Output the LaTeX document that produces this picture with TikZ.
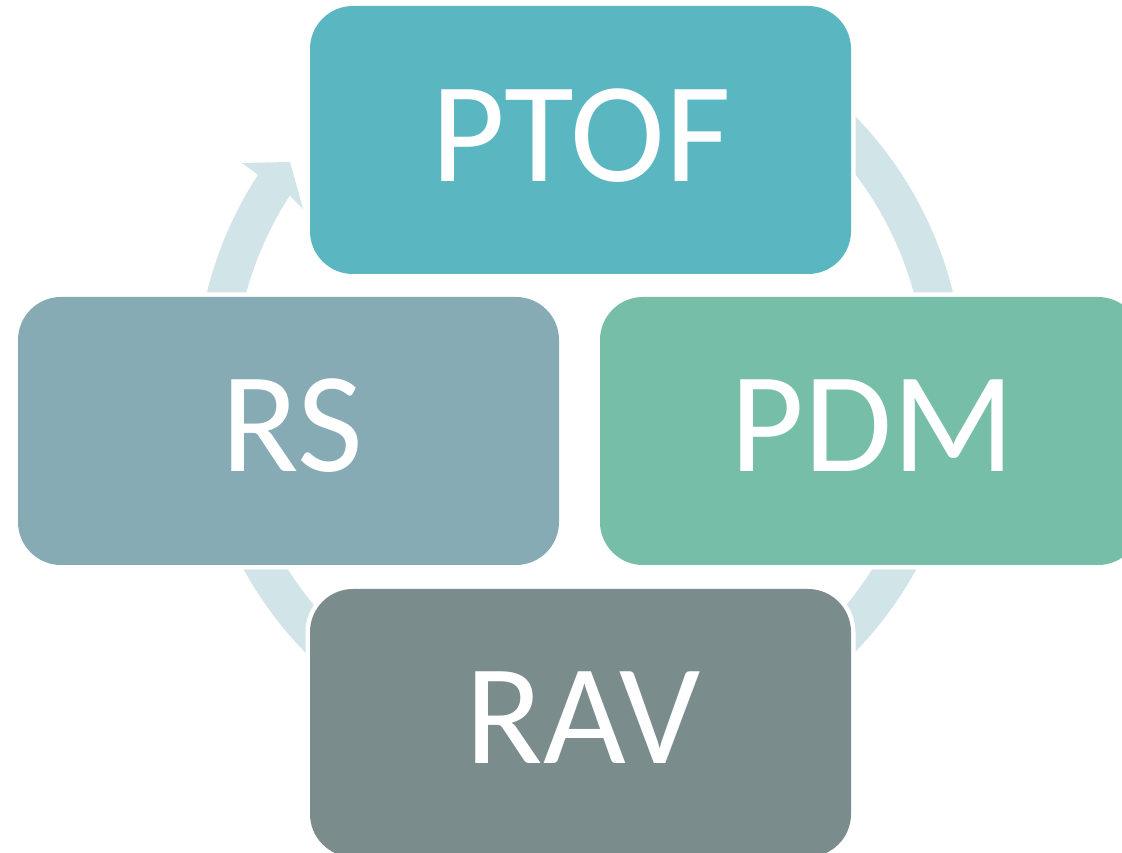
\documentclass[tikz,border=0pt]{standalone}
\usepackage{fontspec}
\setmainfont{Carlito}
\definecolor{cPTOF}{HTML}{5AB6C0}
\definecolor{cRS}{HTML}{86ABB5}
\definecolor{cPDM}{HTML}{77BEA8}
\definecolor{cRAV}{HTML}{7B8C8D}
\definecolor{cArc}{HTML}{D1E4E8}
\tikzset{
  card/.style={fill=#1, rounded corners=43pt, preaction={draw=white, line width=9pt, rounded corners=43pt}},
  cardlabel/.style={text=white, anchor=base, inner sep=0pt, font=\fontsize{143}{143}\selectfont},
}
\begin{document}
\begin{tikzpicture}[x=1pt,y=1pt]
\clip (0,0) rectangle (1122,853);
\fill[white] (0,0) rectangle (1122,853);
% circular arrow
\fill[cArc] ([shift={(147:346)}]580,469) -- (303,644) -- (290,691) -- (242,690)
  -- ([shift={(147:384)}]580,469) arc[start angle=147, end angle=420, radius=384]
  -- ([shift={(420:346)}]580,469) arc[start angle=420, end angle=147, radius=346] -- cycle;
% cards
\path[card=cPTOF] (310,579) rectangle (851,847);
\path[card=cRS] (18,288) rectangle (559,556);
\path[card=cPDM] (600,288) rectangle (1141,556);
\path[card=cRAV] (310,-4) rectangle (851,264);
% labels
\node[cardlabel] (ptof) at (581,671) {PTOF};
\node[cardlabel] (rs) at (292,381) {RS};
\node[cardlabel] (pdm) at (873,381) {PDM};
\node[cardlabel] (rav) at (583,89) {RAV};
\end{tikzpicture}
\end{document}
